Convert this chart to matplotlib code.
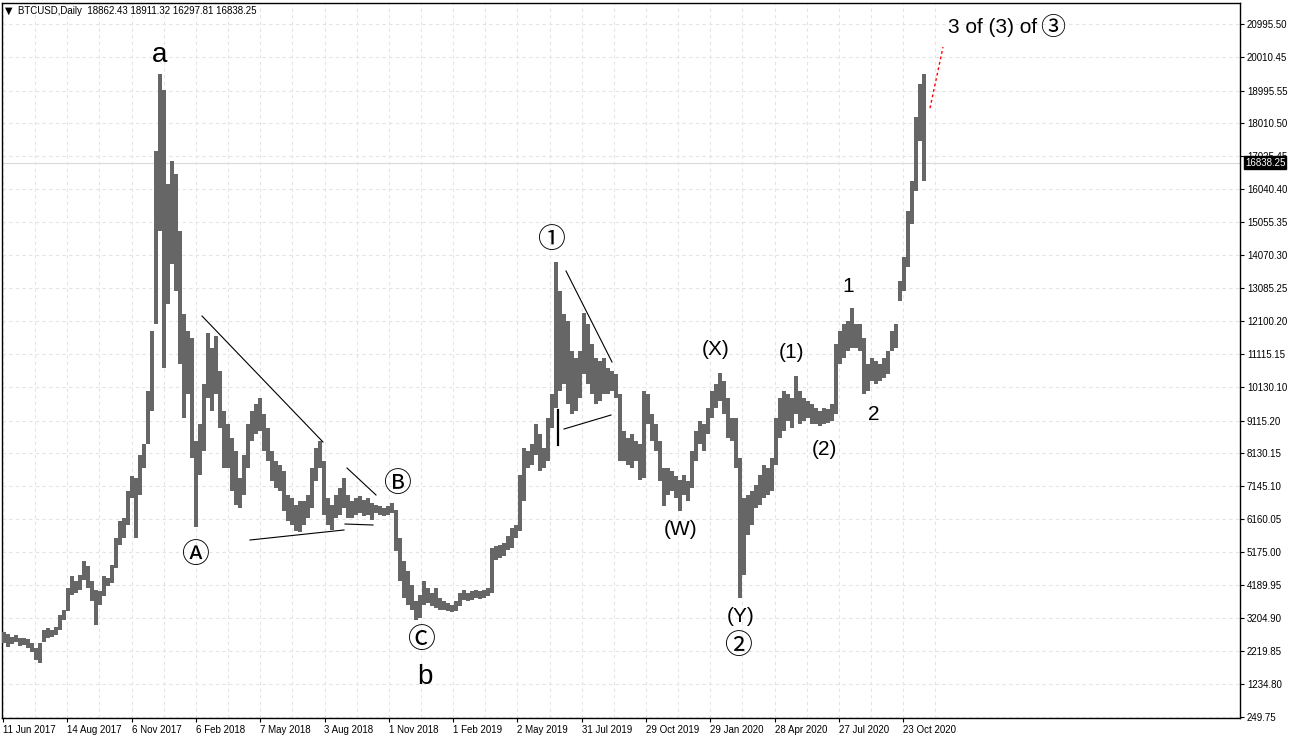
import matplotlib.pyplot as plt
import numpy as np

# BTCUSD daily, bars grouped by 4 days: high / low of each group
highs = [2780, 2720, 2650, 2700, 2620, 2600, 2580, 2450, 2300, 2450,
         2850, 2900, 2850, 2950, 3300, 3450, 4100, 4450, 4300, 4500,
         4900, 4750, 4300, 4050, 4000, 4450, 4400, 4800, 5600, 6100,
         6200, 7000, 7450, 7400, 8100, 8400, 10000, 11800, 17200, 19500,
         19000, 16200, 16900, 16500, 14800, 12300, 11800, 11600, 8500, 9000,
         10200, 11750, 11300, 11650, 10600, 9400, 9000, 8600, 8200, 7400,
         8100, 9000, 9400, 9600, 9800, 9300, 8900, 8200, 7900, 7800,
         7600, 6900, 6800, 6600, 6700, 6700, 6900, 7700, 8300, 8500,
         7900, 6800, 6600, 6900, 7100, 7400, 6900, 6700, 6800, 6850,
         6750, 6800, 6650, 6600, 6550, 6500, 6550, 6650, 6450, 5600,
         4900, 4600, 4200, 3700, 3900, 4300, 4100, 3950, 4100, 3800,
         3700, 3650, 3600, 3700, 3950, 4050, 3950, 4000, 4050, 4000,
         4050, 4100, 5300, 5350, 5400, 5450, 5650, 5900, 6000, 7500,
         8300, 8200, 8400, 9000, 8700, 8300, 9200, 9900, 13860, 13000,
         12300, 12100, 11200, 11000, 11200, 12330, 12000, 11400, 11000, 10900,
         11000, 10700, 10600, 10500, 9900, 8800, 8600, 8700, 8500, 8400,
         10000, 9900, 9300, 9000, 8500, 7700, 7700, 7600, 7450, 7350,
         7500, 7300, 8200, 8800, 9100, 9000, 9500, 10000, 10200, 10530,
         10300, 9800, 9200, 9200, 8000, 6800, 6900, 7000, 7200, 7500,
         7800, 7700, 8000, 9200, 9800, 10000, 9900, 9800, 10450, 10000,
         9800, 9700, 9600, 9500, 9400, 9500, 9450, 9600, 11400, 11800,
         12000, 12100, 12500, 12000, 12000, 11600, 10800, 11000, 10900, 10800,
         11000, 11200, 11800, 12000, 13300, 14000, 15400, 16300, 18200, 19200,
         19480]
lows = [2450, 2350, 2420, 2500, 2380, 2400, 2300, 2200, 1950, 1850,
        2500, 2600, 2650, 2700, 2850, 3150, 3400, 3900, 3950, 4050,
        4350, 4100, 3700, 3000, 3600, 3850, 4150, 4250, 4700, 5400,
        5600, 6000, 6800, 5600, 6900, 7700, 8400, 9400, 12000, 14800,
        10700, 12600, 13800, 13000, 10800, 9200, 9900, 8000, 5930, 7500,
        8200, 9800, 9400, 9900, 8900, 7700, 7700, 7000, 6600, 6500,
        6900, 7700, 8500, 8700, 8800, 8200, 7900, 7300, 7100, 7000,
        6400, 6100, 6000, 5800, 5780, 6000, 6200, 6500, 7300, 7700,
        6300, 6000, 5850, 6200, 6300, 6500, 6200, 6200, 6300, 6350,
        6250, 6300, 6150, 6350, 6300, 6250, 6300, 6350, 5200, 4300,
        3800, 3600, 3450, 3150, 3200, 3600, 3650, 3550, 3500, 3450,
        3450, 3400, 3380, 3400, 3550, 3750, 3700, 3750, 3800, 3780,
        3800, 3850, 3950, 4950, 5000, 5050, 5250, 5300, 5600, 5800,
        6700, 7700, 7800, 8100, 7600, 7700, 7900, 8900, 9500, 10000,
        10200, 9600, 9300, 9400, 9800, 10500, 10200, 9900, 9600, 9700,
        9900, 9900, 10000, 9800, 7900, 7900, 7800, 7700, 7900, 7350,
        7400, 9000, 8500, 8200, 7300, 6550, 6900, 7000, 6800, 6400,
        6900, 6700, 7100, 7900, 8400, 8200, 8700, 9200, 9500, 9700,
        9300, 8600, 8500, 7700, 3800, 4500, 5700, 6000, 6500, 6600,
        6800, 6900, 7000, 7800, 8600, 8800, 9100, 8900, 9300, 9000,
        9100, 9200, 9000, 9000, 8950, 9000, 9050, 9100, 9300, 10800,
        11000, 11200, 11300, 11300, 11200, 9900, 10000, 10300, 10200, 10300,
        10400, 10500, 11200, 11300, 12700, 13000, 13700, 15000, 16000, 17500,
        16300]
GROUP = 4

price_labels = ['20995.50', '20010.45', '18995.55', '18010.50', '17025.45', '16040.40',
                '15055.35', '14070.30', '13085.25', '12100.20', '11115.15', '10130.10',
                '9115.20', '8130.15', '7145.10', '6160.05', '5175.00', '4189.95',
                '3204.90', '2219.85', '1234.80', '249.75']
date_labels = ['11 Jun 2017', '14 Aug 2017', '6 Nov 2017', '6 Feb 2018', '7 May 2018',
               '3 Aug 2018', '1 Nov 2018', '1 Feb 2019', '2 May 2019', '31 Jul 2019',
               '29 Oct 2019', '29 Jan 2020', '28 Apr 2020', '27 Jul 2020', '23 Oct 2020']
header = "BTCUSD,Daily  18862.43 18911.32 16297.81 16838.25"
last_price = 16838.25

# elliott wave labels: text, bar index, price, font size, alignment
waves = [('a', 158, 20060, 20, 'center'), ('\u24B6', 193, 5090, 20, 'center'),
         ('\u24B7', 395, 7220, 20, 'center'), ('\u24B8', 419, 2545, 20, 'center'),
         ('b', 423, 1440, 20, 'center'), ('\u2460', 549, 14520, 20, 'center'),
         ('(W)', 679, 5840, 15, 'center'), ('(X)', 714, 11230, 15, 'center'),
         ('(Y)', 739, 3235, 15, 'center'), ('\u2461', 736, 2365, 20, 'center'),
         ('(1)', 789, 11140, 15, 'center'), ('(2)', 822, 8235, 15, 'center'),
         ('1', 846, 13145, 15, 'center'), ('2', 872, 9310, 15, 'center'),
         ('3 of (3) of', 1035, 20870, 15, 'right'), ('\u2462', 1051, 20870, 18, 'center')]
trend_lines = [((200, 12247), (321, 8474)), ((248, 5540), (342, 5840)),
               ((345, 7696), (374, 6888)), ((343, 6019), (371, 5989)),
               ((564, 13594), (610, 10870)), ((562, 8863), (609, 9282))]
marker_line = ((556, 9432), (556, 8384))
target_line = ((928, 18471), (941, 20297))

W, H = 1291, 740
fig = plt.figure(figsize=(W / 100, H / 100), dpi=100)
ax = fig.add_axes([2 / W, 1 - 718 / H, (1240 - 2) / W, (718 - 3) / H])
ax.set_xlim(0, 1238)
ax.set_ylim(211, 21618)

lbl_font = ['Liberation Sans', 'DejaVu Sans']
wave_font = ['Liberation Sans', 'DejaVu Sans']
circ_font = ['Noto Sans CJK JP', 'DejaVu Sans']

x_left = np.arange(len(highs)) * GROUP
hi = np.array(highs)
lo = np.array(lows)
ax.bar(x_left, hi - lo, bottom=lo, width=GROUP, align='edge', color='#666666',
       linewidth=0, zorder=3)

# axes / ticks
ax.yaxis.tick_right()
ax.set_yticks([float(v) for v in price_labels])
ax.set_yticklabels(price_labels, fontfamily=lbl_font, fontsize=7)
xt = 1 + 64.3 * np.arange(len(date_labels))
ax.set_xticks(xt)
ax.set_xticklabels(date_labels, fontfamily=lbl_font, fontsize=7, ha='left')
ax.set_xticks(xt + 32.15, minor=True)
ax.tick_params(axis='both', which='major', length=3, width=0.8, color='black', pad=2)
ax.tick_params(axis='x', which='minor', length=0)
ax.grid(True, which='both', color='#e4e4e4', linestyle=(0, (3, 3)), linewidth=0.8, zorder=0)
for s in ax.spines.values():
    s.set_linewidth(1)
    s.set_color('black')

# bid line and current price tag
ax.axhline(last_price, color='#d9d9d9', linewidth=0.8, zorder=1)
ax.annotate(f"{last_price:.2f}", xy=(1.0, last_price), xycoords=('axes fraction', 'data'),
            xytext=(3.5, 0), textcoords='offset points', va='center', ha='left',
            fontsize=7, fontfamily=lbl_font, color='white',
            bbox=dict(boxstyle='square,pad=0.12', fc='black', ec='black'),
            annotation_clip=False)

# analysis drawings
for (x0, y0), (x1, y1) in trend_lines:
    ax.plot([x0, x1], [y0, y1], color='black', linewidth=0.8, zorder=4)
ax.plot(*zip(*marker_line), color='black', linewidth=1.6, zorder=4)
ax.plot(*zip(*target_line), color='red', linewidth=1, linestyle=(0, (2, 2)), zorder=4)

for txt, bx, py, fs, ha in waves:
    fam = circ_font if len(txt) == 1 and ord(txt) > 0x2400 else wave_font
    ax.text(bx, py, txt, ha=ha, va='center', fontsize=fs, fontfamily=fam,
            color='black', zorder=5)

fig.text(5 / W, 1 - 11 / H, "\u25BC", ha='left', va='center', fontsize=7,
         fontfamily='DejaVu Sans', color='black')
fig.text(18 / W, 1 - 11 / H, header, ha='left', va='center', fontsize=7,
         fontfamily=lbl_font, color='black')

fig.savefig('out.png', dpi=100)
